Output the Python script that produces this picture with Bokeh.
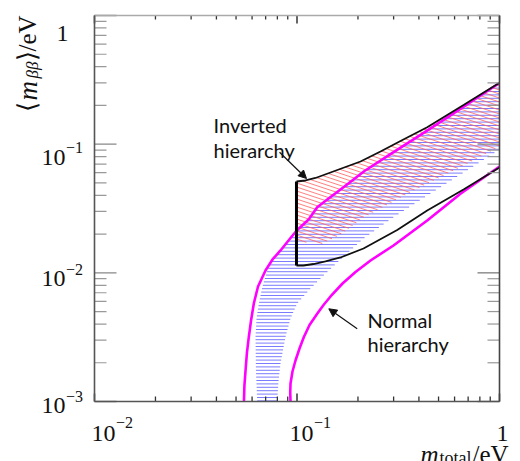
import numpy as np
from bokeh.plotting import figure
from bokeh.models import Label, Arrow, NormalHead, Range1d
from bokeh.embed import file_html
from bokeh.resources import INLINE

# ---------------- data ----------------
# normal hierarchy, upper magenta curve
nh_upper_m = [0.0547, 0.0550, 0.0557, 0.0566, 0.0578, 0.0593, 0.0612, 0.0642, 0.0699, 0.0757,
              0.0829, 0.0908, 0.0994, 0.1141, 0.1258, 0.1464, 0.1697, 0.2154, 0.2894, 0.4074,
              0.5728, 0.7191, 1.0]
nh_upper_y = [0.00100, 0.00133, 0.00174, 0.00240, 0.00316, 0.00426, 0.00578, 0.00783, 0.01043, 0.0127,
              0.01492, 0.01784, 0.02122, 0.02597, 0.03237, 0.03879, 0.04629, 0.06185, 0.08373, 0.1180,
              0.1676, 0.2120, 0.2988]
# normal hierarchy, lower magenta curve
nh_lower_m = [0.0929, 0.0926, 0.0929, 0.0950, 0.0983, 0.1029, 0.1080, 0.1153, 0.1258, 0.1352,
              0.1464, 0.1678, 0.1945, 0.2307, 0.2996, 0.4395, 0.6418, 1.0]
nh_lower_y = [0.00100, 0.001175, 0.00138, 0.00171, 0.002083, 0.002582, 0.003161, 0.003933, 0.004805, 0.005623,
              0.006549, 0.008263, 0.01015, 0.01247, 0.01632, 0.02551, 0.04114, 0.0671]
# inverted hierarchy, black outline
ih_upper_m = [0.0994, 0.1102, 0.1234, 0.1464, 0.1736, 0.2059, 0.2584, 0.3245, 0.4395, 0.6645, 1.0]
ih_upper_y = [0.05128, 0.0522, 0.0546, 0.06023, 0.06646, 0.07333, 0.0877, 0.1058, 0.1355, 0.2016, 0.300]
ih_lower_m = [0.0994, 0.1076, 0.1207, 0.1382, 0.1640, 0.2130, 0.3125, 0.4395, 0.6645, 1.0]
ih_lower_y = [0.0114, 0.0114, 0.01171, 0.01225, 0.01316, 0.01546, 0.02153, 0.03051, 0.04443, 0.0659]
# blue (normal hierarchy) hatched band
nh_band_left_m = [0.0636, 0.0627, 0.0624, 0.0631, 0.0648, 0.0675, 0.0713]
nh_band_left_y = [0.00100, 0.00174, 0.00316, 0.00442, 0.00578, 0.00783, 0.01043]
nh_band_right_m = [0.0798, 0.0810, 0.0829, 0.0877, 0.0929, 0.1002, 0.1166, 0.1352, 0.1640, 0.2130,
                   0.2952, 0.4395, 0.6645, 1.0]
nh_band_right_y = [0.00100, 0.00143, 0.00197, 0.00316, 0.00442, 0.00578, 0.00756, 0.00954, 0.0127, 0.01849,
                   0.02668, 0.0399, 0.06023, 0.0909]
# red (inverted hierarchy) hatched band, lower edge (upper edge = ih_upper)
ih_band_lower_m = [0.0994, 0.1166, 0.1336, 0.1640, 0.2130, 0.3761, 0.6645, 1.0]
ih_band_lower_y = [0.01784, 0.01706, 0.0169, 0.01986, 0.02692, 0.04365, 0.06827, 0.0959]

x_tick_vals = [0.01, 0.1, 1.0]
x_tick_base = ["10", "10", "1"]
x_tick_exp = ["\u22122", "\u22121", ""]
y_tick_vals = [0.001, 0.01, 0.1, 1.0]
y_tick_base = ["10", "10", "10", "1"]
y_tick_exp = ["\u22123", "\u22122", "\u22121", ""]

# ---------------- geometry ----------------
X0, X1 = 0.01, 1.0
Y0, Y1 = 0.001, 1.0
W, H = 520, 461
ML, MR, MT, MB = 94, 21, 15, 60
FW, FH = W - ML - MR, H - MT - MB
sx = FW / (np.log10(X1) - np.log10(X0))   # px per decade
sy = FH / (np.log10(Y1) - np.log10(Y0))

p = figure(width=W, height=H, x_axis_type="log", y_axis_type="log",
           x_range=Range1d(X0 / 10 ** (ML / sx), X1 * 10 ** (MR / sx)),
           y_range=Range1d(Y0 / 10 ** (MB / sy), Y1 * 10 ** (MT / sy)),
           x_axis_location=None, y_axis_location=None,
           output_backend="svg", toolbar_location=None, min_border=0)
p.grid.visible = False
p.outline_line_color = None
p.background_fill_color = "white"
p.border_fill_color = "white"


def decade_minors(lo, hi):
    out = []
    for d in range(int(round(np.log10(lo))), int(round(np.log10(hi)))):
        out += [k * 10.0 ** d for k in range(2, 10)]
    return out


def to_px(m, y):
    return (np.log10(m) - np.log10(X0)) * sx, (np.log10(y) - np.log10(Y0)) * sy


def to_data(X, Y):
    return 10 ** (X / sx + np.log10(X0)), 10 ** (Y / sy + np.log10(Y0))


def hatch(poly_m, poly_y, k, spacing, phase):
    X, Y = to_px(np.asarray(poly_m, float), np.asarray(poly_y, float))
    X2 = np.roll(X, -1)
    g = Y + k * X
    g2 = np.roll(g, -1)
    xs, ys = [], []
    for c in np.arange(g.min() + phase, g.max(), spacing):
        f1, f2 = g - c, g2 - c
        cr = (f1 > 0) != (f2 > 0)
        t = f1[cr] / (f1[cr] - f2[cr])
        xi = np.sort(X[cr] + t * (X2[cr] - X[cr]))
        for a, b in zip(xi[0::2], xi[1::2]):
            mm, yy = to_data(np.array([a, b]), c - k * np.array([a, b]))
            xs.append(list(mm))
            ys.append(list(yy))
    return xs, ys


# ---------------- hatched bands ----------------
join = [i for i, v in enumerate(nh_upper_y) if v > nh_band_left_y[-1] + 1e-6][0]
blue_m = nh_band_left_m + nh_upper_m[join:] + nh_band_right_m[::-1]
blue_y = nh_band_left_y + nh_upper_y[join:] + nh_band_right_y[::-1]
bx, by = hatch(blue_m, blue_y, 0.0, 3.4, 0.6)
p.multi_line(bx, by, line_color="#5a5aff", line_width=1, line_alpha=0.8)

red_m = ih_upper_m + ih_band_lower_m[::-1]
red_y = ih_upper_y + ih_band_lower_y[::-1]
rx, ry = hatch(red_m, red_y, 0.33, 4.0, 1.5)
p.multi_line(rx, ry, line_color="#ff6060", line_width=1, line_alpha=0.8)

# ---------------- curves ----------------
p.line(nh_upper_m, nh_upper_y, line_color="#ff00ff", line_width=2.6)
p.line(nh_lower_m, nh_lower_y, line_color="#ff00ff", line_width=2.6)
p.line(ih_upper_m, ih_upper_y, line_color="#111111", line_width=1.8)
p.line(ih_lower_m, ih_lower_y, line_color="#111111", line_width=1.8)
p.line([ih_upper_m[0], ih_lower_m[0]], [ih_upper_y[0], ih_lower_y[0]], line_color="black", line_width=3)

# ---------------- axes (frame, ticks) ----------------
def ticks_x(vals, at, length, color, width, down):
    f = 10 ** (length / sy)
    y1 = at / f if down else at * f
    p.segment(x0=vals, y0=[at] * len(vals), x1=vals, y1=[y1] * len(vals),
              line_color=color, line_width=width)


def ticks_y(vals, at, length, color, width, leftward):
    f = 10 ** (length / sx)
    x1 = at / f if leftward else at * f
    p.segment(x0=[at] * len(vals), y0=vals, x1=[x1] * len(vals), y1=vals,
              line_color=color, line_width=width)


ticks_x(decade_minors(X0, X1), Y0, 5, "#333333", 1.3, False)
ticks_x(x_tick_vals, Y0, 8, "#333333", 1.5, False)
ticks_x(decade_minors(X0, X1), Y1, 4, "#333333", 1.3, True)
ticks_x(x_tick_vals, Y1, 8, "#333333", 1.5, True)
ticks_y(decade_minors(Y0, Y1), X0, 12, "#999999", 1.2, False)
ticks_y(y_tick_vals, X0, 22, "#888888", 1.4, False)
ticks_y(decade_minors(Y0, Y1), X1, 12, "#999999", 1.2, True)
ticks_y(y_tick_vals, X1, 22, "#888888", 1.4, True)

p.line([X0, X1], [Y1, Y1], line_color="#aaaaaa", line_width=1.6)
p.line([X0, X1], [Y0, Y0], line_color="#555555", line_width=1.6)
p.line([X0, X0], [Y0, Y1], line_color="#555555", line_width=1.6)
p.line([X1, X1], [Y0, Y1], line_color="#444444", line_width=1.6)

# ---------------- annotations ----------------
TXT = "Lato"
for t, yv in (("Inverted", 0.1397), ("hierarchy", 0.0901)):
    p.add_layout(Label(x=0.0387, y=yv, text=t, text_font=TXT, text_font_size="20px",
                       text_color="#111111", text_baseline="alphabetic", text_align="left"))
for t, yv in (("Normal", 0.0043), ("hierarchy", 0.0028)):
    p.add_layout(Label(x=0.2229, y=yv, text=t, text_font=TXT, text_font_size="20px",
                       text_color="#111111", text_baseline="alphabetic", text_align="left"))

p.add_layout(Arrow(end=NormalHead(size=8, fill_color="#111111", line_color="#111111", line_width=1),
                   x_start=0.0820, y_start=0.0866, x_end=0.1114, y_end=0.0541,
                   line_color="#111111", line_width=1.2))
p.add_layout(Arrow(end=NormalHead(size=8, fill_color="#111111", line_color="#111111", line_width=1),
                   x_start=0.1983, y_start=0.003673, x_end=0.1436, y_end=0.005254,
                   line_color="#111111", line_width=1.2))

# ---------------- tick labels ----------------
SERIF = "Liberation Serif"
x_dx = [21, 16.5, 9]
for v, b, e, dx in zip(x_tick_vals, x_tick_base, x_tick_exp, x_dx):
    p.add_layout(Label(x=v, y=Y0, x_offset=dx, y_offset=-31.5, text=b, text_font=SERIF,
                       text_font_size="24px", text_align="right", text_baseline="alphabetic",
                       text_color="#111111"))
    if e:
        p.add_layout(Label(x=v, y=Y0, x_offset=dx + 0.5, y_offset=-31.5 + 10.5, text=e, text_font=SERIF,
                           text_font_size="16px", text_align="left", text_baseline="alphabetic",
                           text_color="#111111"))
y_dy = [-4, -6, -13, -18]
for v, b, e, dy in zip(y_tick_vals, y_tick_base, y_tick_exp, y_dy):
    dx = -29 if e else -26
    p.add_layout(Label(x=X0, y=v, x_offset=dx, y_offset=dy, text=b, text_font=SERIF,
                       text_font_size="24px", text_align="right", text_baseline="alphabetic",
                       text_color="#111111"))
    if e:
        p.add_layout(Label(x=X0, y=v, x_offset=dx + 0.5, y_offset=dy + 9.5, text=e, text_font=SERIF,
                           text_font_size="16px", text_align="left", text_baseline="alphabetic",
                           text_color="#111111"))

# ---------------- axis titles ----------------
# y title, rotated, pieces from bottom to top: (text, start below frame top, baseline x rel. frame left, size, style)
ytitle = [("\u27e8", 96, -67, "26px", "normal"),
          ("m", 85, -67, "27px", "italic"),
          ("\u03b2\u03b2", 63, -62, "17px", "italic"),
          ("\u27e9", 45, -67, "26px", "normal"),
          ("/eV", 36, -67, "25px", "normal")]
for t, dy, dx, fs, st in ytitle:
    p.add_layout(Label(x=X0, y=Y1, x_offset=dx, y_offset=-dy, text=t, angle=np.pi / 2,
                       text_font=SERIF, text_font_size=fs, text_font_style=st,
                       text_align="left", text_baseline="alphabetic", text_color="#111111"))

xtitle = [("m", -79, -53, "25px", "italic"),
          ("total", -60, -56, "18px", "normal"),
          ("/eV", -27, -53, "25px", "normal")]
for t, dx, dy, fs, st in xtitle:
    p.add_layout(Label(x=X1, y=Y0, x_offset=dx, y_offset=dy, text=t,
                       text_font=SERIF, text_font_size=fs, text_font_style=st,
                       text_align="left", text_baseline="alphabetic", text_color="#111111"))

open("out.html", "w").write(file_html(p, INLINE))
